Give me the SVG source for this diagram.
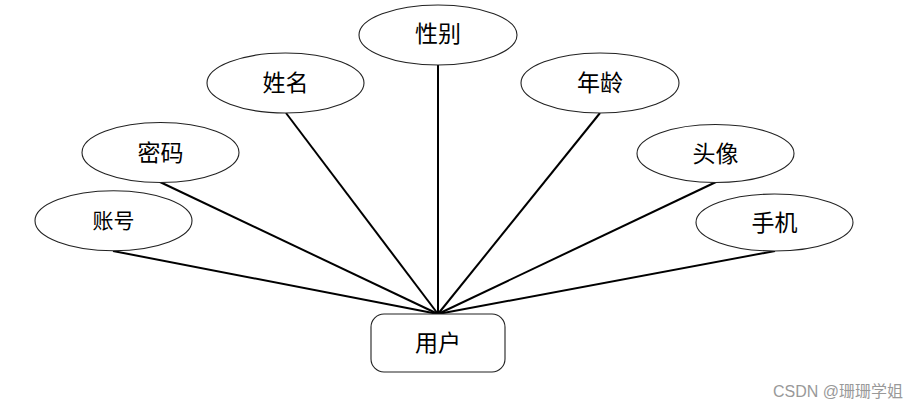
<svg xmlns="http://www.w3.org/2000/svg" width="924" height="410" viewBox="0 0 924 410">
<style>
.attr{fill:#fff;stroke:#222;stroke-width:1.1}
.ent{fill:#fff;stroke:#222;stroke-width:1.1}
.lbl{font-family:"Noto Sans CJK SC","Liberation Sans",sans-serif;font-size:23px;fill:#000;text-anchor:middle}
.edge{stroke:#000;stroke-width:2;fill:none}
.wm{font-family:"Liberation Sans","Noto Sans CJK SC",sans-serif;font-size:16px;fill:#999}
</style>
<rect width="924" height="410" fill="#fff"/>
<g id="connectors">
<line class="edge" x1="113" y1="251" x2="438" y2="314"/>
<line class="edge" x1="160" y1="182" x2="438" y2="314"/>
<line class="edge" x1="286" y1="113" x2="438" y2="314"/>
<line class="edge" x1="438" y1="65" x2="438" y2="314"/>
<line class="edge" x1="600" y1="113" x2="438" y2="314"/>
<line class="edge" x1="716" y1="182" x2="438" y2="314"/>
<line class="edge" x1="775" y1="251" x2="438" y2="314"/>
</g>
<g id="user">
<rect class="ent" x="371" y="314" width="134" height="58" rx="13"/>
<text class="lbl" x="438" y="351">用户</text>
</g>
<g id="zhanghao">
<ellipse class="attr" cx="113.5" cy="220.7" rx="78.5" ry="30"/>
<text class="lbl" x="113.5" y="228" style="font-size:21px">账号</text>
</g>
<g id="mima">
<ellipse class="attr" cx="160.5" cy="152.5" rx="78.5" ry="30"/>
<text class="lbl" x="160.5" y="160.5">密码</text>
</g>
<g id="xingming">
<ellipse class="attr" cx="285.5" cy="83" rx="78.5" ry="30"/>
<text class="lbl" x="285.5" y="91">姓名</text>
</g>
<g id="xingbie">
<ellipse class="attr" cx="438" cy="35" rx="79" ry="30"/>
<text class="lbl" x="438" y="42">性别</text>
</g>
<g id="nianling">
<ellipse class="attr" cx="600" cy="83" rx="79" ry="30"/>
<text class="lbl" x="600" y="91">年龄</text>
</g>
<g id="touxiang">
<ellipse class="attr" cx="715.5" cy="153.5" rx="78.5" ry="29"/>
<text class="lbl" x="715.5" y="161.5">头像</text>
</g>
<g id="shouji">
<ellipse class="attr" cx="774.5" cy="222.5" rx="78.5" ry="28.5"/>
<text class="lbl" x="774.5" y="230.5">手机</text>
</g>
<text class="wm" x="773" y="397">CSDN @珊珊学姐</text>
</svg>
